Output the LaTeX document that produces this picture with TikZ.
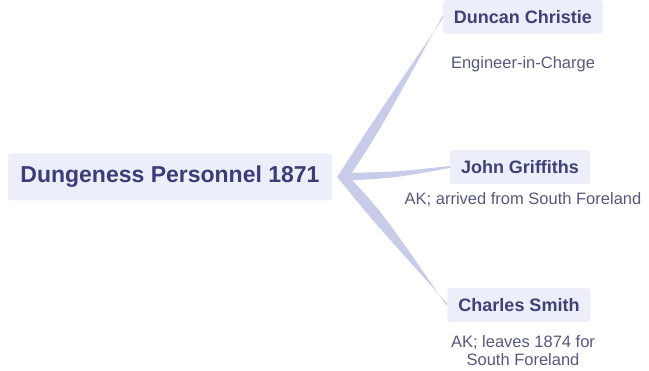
\documentclass[tikz,border=0pt]{standalone}
\usepackage{fontspec}
\setmainfont{Liberation Sans}
\usetikzlibrary{backgrounds}

\definecolor{boxfill}{HTML}{ECEEF9}
\definecolor{branchcol}{HTML}{C9CCE9}
\definecolor{rootink}{HTML}{3A3D78}
\definecolor{nameink}{HTML}{3E4176}
\definecolor{noteink}{HTML}{56587E}

\begin{document}
\begin{tikzpicture}[x=1pt,y=-1pt,
    rootbox/.style={fill=boxfill, rounded corners=3pt, text=rootink,
        font=\fontsize{23}{27}\selectfont\bfseries,
        minimum width=324pt, minimum height=47pt},
    namebox/.style={fill=boxfill, rounded corners=3pt, text=nameink,
        font=\fontsize{18}{21}\selectfont\bfseries,
        inner xsep=11pt, minimum height=34pt},
    note/.style={text=noteink, font=\fontsize{16.5}{18}\selectfont,
        align=center, inner sep=0pt},
    branch/.style={fill=branchcol}]
    \useasboundingbox (0,0) rectangle (649,371);
    %Rot
        \node[rootbox] (root) at (170,177) {Dungeness Personnel 1871};
    %Personer
        \node[namebox] (duncan) at (523,17) {Duncan Christie};
        \node[note] (duncannote) at (523,64) {Engineer-in-Charge};

        \node[namebox] (john) at (520,167) {John Griffiths};
        \node[note] (johnnote) at (523,200) {AK; arrived from South Foreland};

        \node[namebox] (charles) at (519,305) {Charles Smith};
        \node[note] (charlesnote) at (523,351) {AK; leaves 1874 for\\South Foreland};
    %Grener
    \begin{scope}[on background layer]
        \fill[branch] ([xshift=5pt]root.east) .. controls (370,126) .. ([yshift=-1.5pt]duncan.west)
            -- ([yshift=1.5pt]duncan.west) .. controls (380,130) .. ([xshift=17pt]root.east) -- cycle;
        \fill[branch] ([xshift=8pt,yshift=4pt]root.east) .. controls (395,172) .. ([yshift=1pt]john.west)
            -- ([yshift=-1pt]john.west) .. controls (395,178) .. ([xshift=8pt,yshift=-4pt]root.east) -- cycle;
        \fill[branch] ([xshift=5pt]root.east) .. controls (372,220) .. ([yshift=1.5pt]charles.west)
            -- ([yshift=-1.5pt]charles.west) .. controls (382,212) .. ([xshift=17pt]root.east) -- cycle;
    \end{scope}
\end{tikzpicture}
\end{document}
